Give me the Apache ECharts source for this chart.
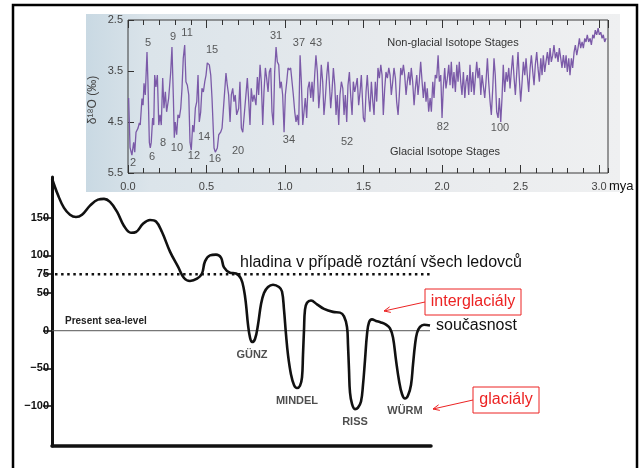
<!DOCTYPE html>
<html>
<head>
<meta charset="utf-8">
<script src="https://cdn.jsdelivr.net/npm/echarts@6/dist/echarts.min.js"></script>
<style>
  html, body { margin: 0; padding: 0; background: #ffffff; }
  #chart { width: 640px; height: 468px; }
</style>
</head>
<body>
<div id="chart"></div>
<script>
// ---- Oxygen-isotope record: age (million years ago) and δ18O (‰) ----
const isoAge = [
  0.004,0.013,0.025,0.036,0.043,0.051,0.064,0.072,0.078,0.085,0.089,0.096,0.102,0.110,0.121,0.127,0.136,0.142,0.148,0.157,
  0.164,0.170,0.178,0.187,0.196,0.204,0.212,0.221,0.229,0.238,0.246,0.259,0.272,0.280,0.289,0.295,0.301,0.310,0.318,0.327,
  0.336,0.344,0.352,0.361,0.369,0.378,0.387,0.395,0.403,0.412,0.420,0.429,0.438,0.446,0.454,0.463,0.471,0.480,0.489,0.497,
  0.505,0.518,0.527,0.535,0.548,0.556,0.569,0.578,0.590,0.599,0.611,0.624,0.632,0.641,0.650,0.658,0.667,0.675,0.683,0.692,
  0.705,0.713,0.722,0.731,
  0.760,0.769,0.777,0.785,0.794,0.803,0.815,0.824,0.832,0.841,0.849,0.858,0.866,0.875,0.883,0.892,0.900,0.909,0.917,0.926,
  0.934,0.943,0.951,0.960,0.968,0.976,0.985,0.994,1.002,1.011,1.019,1.027,1.036,1.045,1.053,1.062,1.070,1.078,1.087,1.096,
  1.104,1.113,1.121,1.129,1.138,1.146,1.155,1.164,1.172,1.180,1.189,1.197,1.206,1.215,1.223,1.231,1.240,1.248,1.257,1.266,
  1.274,1.282,1.291,1.299,1.308,1.317,1.325,1.333,1.342,1.350,1.359,1.368,1.376,1.384,1.393,1.401,1.410,1.418,1.427,1.435,
  1.444,1.452,1.460,1.469,1.478,1.486,
  1.499,1.508,1.516,1.524,1.533,1.541,1.550,1.559,1.567,1.575,1.584,1.592,1.601,1.610,1.618,1.626,1.635,1.643,1.652,1.661,
  1.669,1.677,1.686,1.694,1.703,1.711,1.720,1.728,1.737,1.745,1.754,1.762,1.771,1.779,1.788,1.796,1.804,1.813,1.822,1.830,
  1.839,1.847,1.855,1.864,1.873,1.881,1.890,1.898,1.906,1.915,1.924,1.932,1.941,1.949,1.957,1.966,1.975,1.983,1.992,2.000,
  2.008,2.017,2.025,2.034,2.043,2.051,2.059,2.068,2.076,2.085,2.094,2.102,2.110,2.119,2.127,2.136,2.145,2.153,2.161,2.170,
  2.178,2.187,2.196,2.204,2.212,2.221,2.229,2.238,2.247,2.255,
  2.272,2.280,2.289,2.297,2.306,2.314,2.323,2.331,2.339,2.348,2.357,2.365,2.374,2.382,2.390,2.399,2.408,2.416,2.425,2.433,
  2.441,2.450,2.459,2.467,2.476,2.484,2.492,2.501,2.510,2.518,2.527,2.535,2.543,2.552,2.561,2.569,2.578,2.586,2.594,2.603,
  2.611,2.620,2.629,2.637,2.645,2.654,2.662,2.671,2.680,2.688,2.696,2.705,2.713,2.722,2.731,2.739,2.747,2.756,2.764,2.773,
  2.782,2.790,2.798,2.807,2.815,2.824,2.832,2.841,2.849,2.858,2.866,2.875,2.883,2.892,2.900,2.909,2.917,2.925,2.934,2.943,
  2.951,2.960,2.968,2.976,2.985,2.994,3.002,3.011,3.019,3.027,3.036,3.045
];
const isoD18O = [
  4.03,5.00,5.15,4.90,5.09,4.70,4.62,4.52,4.56,4.23,4.04,4.17,3.74,3.97,3.13,3.71,4.90,5.01,4.90,4.42,
  4.56,3.58,3.81,3.58,4.56,4.36,4.56,3.64,4.23,3.91,4.30,4.03,3.52,3.03,4.03,4.81,4.50,4.75,4.36,4.42,
  4.23,3.84,3.25,2.99,3.71,3.78,3.97,4.90,5.05,4.56,4.70,4.23,4.10,3.58,4.50,4.30,3.84,3.91,3.71,3.58,
  3.34,3.38,3.58,4.03,5.01,5.09,5.01,4.75,4.70,4.62,4.10,3.54,3.77,3.97,4.50,3.97,3.84,4.10,3.97,4.36,
  4.23,3.71,4.62,4.70,
  3.64,4.10,4.56,3.84,4.10,3.97,4.17,3.62,3.97,3.38,3.71,4.56,3.91,3.44,3.64,3.91,3.52,3.44,4.30,4.56,
  3.52,3.03,3.32,3.38,3.84,3.71,3.97,4.70,3.97,3.71,3.44,3.48,3.44,3.42,3.97,4.30,4.50,4.36,4.56,3.19,
  3.71,4.56,4.30,4.03,4.42,3.84,3.71,4.03,3.71,4.10,3.58,3.19,3.52,4.23,3.91,3.38,3.71,4.36,4.03,3.58,
  3.32,3.71,4.23,3.91,3.44,3.78,4.36,3.97,4.56,3.97,3.71,3.84,4.36,3.97,4.50,3.78,3.52,3.97,4.36,3.71,
  3.91,3.78,3.64,4.17,3.91,3.58,
  4.42,4.50,3.91,3.58,4.03,4.30,3.71,4.10,4.36,3.71,4.10,3.44,3.64,3.38,3.58,4.36,3.84,3.52,3.64,3.44,
  3.58,3.97,3.71,3.44,3.64,4.10,4.36,3.97,3.44,3.58,3.38,3.58,3.97,3.71,3.52,3.78,3.44,3.71,4.17,3.84,
  3.58,3.97,3.71,3.32,3.71,4.03,3.71,4.10,3.84,4.30,4.03,4.30,3.71,4.03,3.58,3.64,3.19,3.71,3.58,4.42,
  3.84,3.44,3.84,3.64,3.38,3.78,3.32,3.84,3.52,3.91,3.38,3.71,3.32,3.71,3.97,3.52,4.03,3.71,3.58,3.97,
  3.38,3.91,3.52,3.97,3.64,3.32,3.64,3.44,3.97,3.58,
  4.03,3.71,3.25,3.71,4.10,4.36,3.84,3.25,3.58,4.30,4.42,4.03,4.50,4.03,3.38,3.91,3.52,3.71,3.44,3.84,
  3.52,3.19,3.64,3.97,3.52,3.13,3.64,4.10,3.71,3.32,3.58,3.25,3.58,3.91,3.44,3.19,3.52,3.78,3.38,3.13,
  3.44,3.71,3.25,3.58,3.19,3.52,3.32,3.13,3.38,3.05,3.32,3.19,2.99,3.25,3.13,3.32,3.05,3.25,3.44,3.19,
  3.44,3.19,3.52,3.25,3.58,3.25,3.44,3.13,2.99,3.19,3.05,2.86,3.05,2.93,3.05,2.86,2.93,2.79,2.93,2.86,
  2.99,2.79,2.86,2.70,2.79,2.66,2.79,2.74,2.86,2.79,2.93,2.86
];
const isoTicks = [2.5, 3.5, 4.5, 5.5];

// Marine isotope stages: number, age, and the δ18O level at which the number is printed
const stageNames  = ['2','5','6','8','9','10','11','12','14','15','16','20','31','34','37','43','52','82','100'];
const stageAges   = [0.032,0.127,0.153,0.223,0.287,0.312,0.376,0.420,0.484,0.535,0.554,0.701,0.943,1.025,1.089,1.197,1.395,2.006,2.369];
const stageLevels = [5.30,2.95,5.19,4.91,2.83,5.01,2.75,5.17,4.79,3.09,5.23,5.07,2.81,4.85,2.95,2.95,4.89,4.60,4.62];

// ---- Sea level (m relative to present) through the Alpine glaciations; time runs left to right ----
const seaTime = [
  0,6,12,18,24,30,38,46,52,58,65,72,79,84,91,98,104,110,118,126,
  132,138,145,150,153,158,164,169,172,178,184,189,192,194,196,198,200,203,206,209,
  212,216,221,227,230,232,234,236,239,242,245,248,250,251,252,253,255,259,265,272,
  281,288,292,295,296,297,298,300,303,306,309,311,313,315,317,320,324,329,334,338,
  341,344,347,350,353,356,359,361,363,365,368,372,378
];
const seaLevel = [
  202,180,163,154,151,154,166,174,175,171,158,139,130,131,142,147,145,131,105,85,
  70,66,69,76,92,100,101,97,84,77,76,69,54,35,8,-9,-15,-11,8,35,
  50,58,61,58,52,28,-5,-32,-58,-72,-76,-73,-62,-32,1,28,37,40,35,29,
  25,24,19,5,-19,-52,-82,-97,-104,-102,-94,-72,-39,-5,11,15,13,11,8,3,
  -9,-39,-66,-84,-90,-86,-72,-45,-19,-3,5,8,7
];
const seaTicks = [150, 100, 75, 50, 0, -50, -100];
const meltLevel = 75;     // level if all ice sheets melted
const presentLevel = 0;   // present sea level
const glacialNames = ['GÜNZ', 'MINDEL', 'RISS', 'WÜRM'];
const glacialTime  = [200, 245, 303, 353];

// ---- helpers ----
const FONT = '"Liberation Sans", Arial, Helvetica, sans-serif';
const RED = '#ec2323';

function label(x, y, text, size, opts) {
  opts = opts || {};
  return {
    type: 'text', x: x, y: y, z: 100, rotation: opts.rotation || 0,
    style: {
      text: text,
      font: (opts.weight || 'normal') + ' ' + size + 'px ' + FONT,
      fill: opts.color || '#111',
      textAlign: opts.align || 'left', align: opts.align || 'left',
      textVerticalAlign: 'middle', verticalAlign: 'middle'
    }
  };
}
function arrow(x1, y1, x2, y2) {
  const a = Math.atan2(y1 - y2, x1 - x2), len = 7, spread = 0.42;
  return [
    { type: 'line', z: 100, shape: { x1: x1, y1: y1, x2: x2, y2: y2 }, style: { stroke: RED, lineWidth: 1 } },
    { type: 'polyline', z: 100, shape: { points: [
        [x2 + len * Math.cos(a + spread), y2 + len * Math.sin(a + spread)],
        [x2, y2],
        [x2 + len * Math.cos(a - spread), y2 + len * Math.sin(a - spread)] ] },
      style: { stroke: RED, lineWidth: 1, fill: null } }
  ];
}

const isoData = isoAge.map((t, i) => [t, isoD18O[i]]);
const stageData = stageNames.map((n, i) => ({ name: n, value: [stageAges[i], stageLevels[i]] }));
const seaData = seaTime.map((t, i) => [t, seaLevel[i]]);
const glacialData = glacialNames.map((n, i) => ({ name: n, value: [glacialTime[i], seaLevel[seaTime.indexOf(glacialTime[i])]] }));
const tEnd = seaTime[seaTime.length - 1];

const hidden = { show: false };
const isoTickColor = '#333';
function isoX(position, interval, tickLen, withLabels) {
  return {
    gridIndex: 0, type: 'value', position: position, min: 0, max: 3.057, interval: interval,
    axisLine: hidden, splitLine: hidden,
    axisTick: { inside: true, length: tickLen, lineStyle: { color: isoTickColor, width: 1 } },
    axisLabel: withLabels ? {
      show: true, showMaxLabel: false, margin: 8, fontSize: 11, fontFamily: FONT, color: '#444',
      formatter: v => v.toFixed(1)
    } : hidden
  };
}

const chart = echarts.init(document.getElementById('chart'), null, { renderer: 'canvas' });
chart.setOption({
  animation: false,
  backgroundColor: '#ffffff',
  grid: [
    { left: 128, top: 20, width: 480, height: 153, show: true, borderColor: '#3a3a3a', borderWidth: 1, backgroundColor: 'transparent' },
    { left: 52, top: 177, width: 379, height: 269 }
  ],
  xAxis: [
    isoX('bottom', 0.5, 8, true),
    isoX('bottom', 0.1, 5, false),
    isoX('top', 0.5, 8, false),
    isoX('top', 0.1, 5, false),
    {
      gridIndex: 1, type: 'value', min: 0, max: 379,
      axisLine: { show: true, onZero: false, lineStyle: { color: '#111', width: 3.5 } },
      axisTick: hidden, axisLabel: hidden, splitLine: hidden
    }
  ],
  yAxis: [
    {
      gridIndex: 0, type: 'value', inverse: true, min: 2.5, max: 5.5,
      axisLine: hidden, splitLine: hidden,
      axisTick: { inside: true, length: 6, customValues: isoTicks, lineStyle: { color: isoTickColor } },
      axisLabel: { customValues: isoTicks, margin: 5, fontSize: 11, fontFamily: FONT, color: '#444', formatter: v => v.toFixed(1) }
    },
    {
      gridIndex: 1, type: 'value', min: -153, max: 204,
      axisLine: { show: true, onZero: false, lineStyle: { color: '#111', width: 3 } },
      splitLine: hidden,
      axisTick: { customValues: seaTicks, length: 9, lineStyle: { color: '#111', width: 1.5 } },
      axisLabel: {
        customValues: seaTicks, margin: 3, fontSize: 11, fontWeight: 'bold', fontFamily: FONT, color: '#111',
        formatter: v => String(v).replace('-', '\u2212')
      }
    }
  ],
  series: [
    {
      name: 'δ18O', type: 'line', xAxisIndex: 0, yAxisIndex: 0, data: isoData,
      showSymbol: false, symbol: 'none', lineStyle: { color: '#7b5aa8', width: 1.3 }, z: 3
    },
    {
      name: 'stages', type: 'scatter', xAxisIndex: 0, yAxisIndex: 0, data: stageData,
      symbolSize: 0, silent: true, z: 4,
      label: { show: true, position: 'inside', formatter: '{b}', fontSize: 11, fontFamily: FONT, color: '#333' }
    },
    {
      name: 'present', type: 'line', xAxisIndex: 4, yAxisIndex: 1,
      data: [[0, presentLevel], [tEnd, presentLevel]],
      symbol: 'none', lineStyle: { color: '#555', width: 1 }, z: 2
    },
    {
      name: 'melt', type: 'line', xAxisIndex: 4, yAxisIndex: 1,
      data: [[3, meltLevel], [tEnd, meltLevel]],
      symbol: 'none', lineStyle: { color: '#111', width: 2.5, type: [2.5, 3.6] }, z: 2
    },
    {
      name: 'sea level', type: 'line', xAxisIndex: 4, yAxisIndex: 1, data: seaData,
      showSymbol: false, symbol: 'none', smooth: 0.4, clip: false,
      lineStyle: { color: '#111', width: 2.6 }, z: 3
    },
    {
      name: 'glacials', type: 'scatter', xAxisIndex: 4, yAxisIndex: 1, data: glacialData,
      symbolSize: 0, silent: true, z: 4,
      label: { show: true, position: 'bottom', distance: 7, formatter: '{b}', fontSize: 11, fontWeight: 'bold', fontFamily: FONT, color: '#222' }
    }
  ],
  graphic: [
    // outer frame
    { type: 'rect', z: 90, shape: { x: 13, y: 5, width: 624, height: 472 }, style: { fill: null, stroke: '#000', lineWidth: 2.5 } },
    // paper background behind the isotope panel
    { type: 'rect', z: -10, shape: { x: 86, y: 14, width: 534, height: 178 },
      style: { fill: new echarts.graphic.LinearGradient(0, 0, 1, 0, [
        { offset: 0, color: '#c9d9e3' }, { offset: 0.12, color: '#dbe4ea' },
        { offset: 0.55, color: '#e7eaed' }, { offset: 1, color: '#eff0f1' } ]) } },
    label(93, 100, 'δ¹⁸O (‰)', 12, { color: '#444', align: 'center', rotation: Math.PI / 2 }),
    label(453, 43, 'Non-glacial Isotope Stages', 11, { color: '#333', align: 'center' }),
    label(445, 152, 'Glacial Isotope Stages', 11, { color: '#333', align: 'center' }),
    label(609, 186, 'mya', 13, { color: '#111' }),
    label(65, 321, 'Present sea-level', 10, { weight: 'bold', color: '#222' }),
    label(240, 263, 'hladina v případě roztání všech ledovců', 16, { color: '#111' }),
    label(436, 326, 'současnost', 16, { color: '#111' }),
    { type: 'rect', z: 99, shape: { x: 425, y: 289, width: 96, height: 26 }, style: { fill: '#fff', stroke: RED, lineWidth: 1 } },
    label(473, 302, 'interglaciály', 16, { color: RED, align: 'center' }),
    { type: 'rect', z: 99, shape: { x: 473, y: 387, width: 66, height: 26 }, style: { fill: '#fff', stroke: RED, lineWidth: 1 } },
    label(506, 400, 'glaciály', 16, { color: RED, align: 'center' })
  ].concat(arrow(425, 302, 384, 311), arrow(473, 400, 433, 409))
});
</script>
</body>
</html>
